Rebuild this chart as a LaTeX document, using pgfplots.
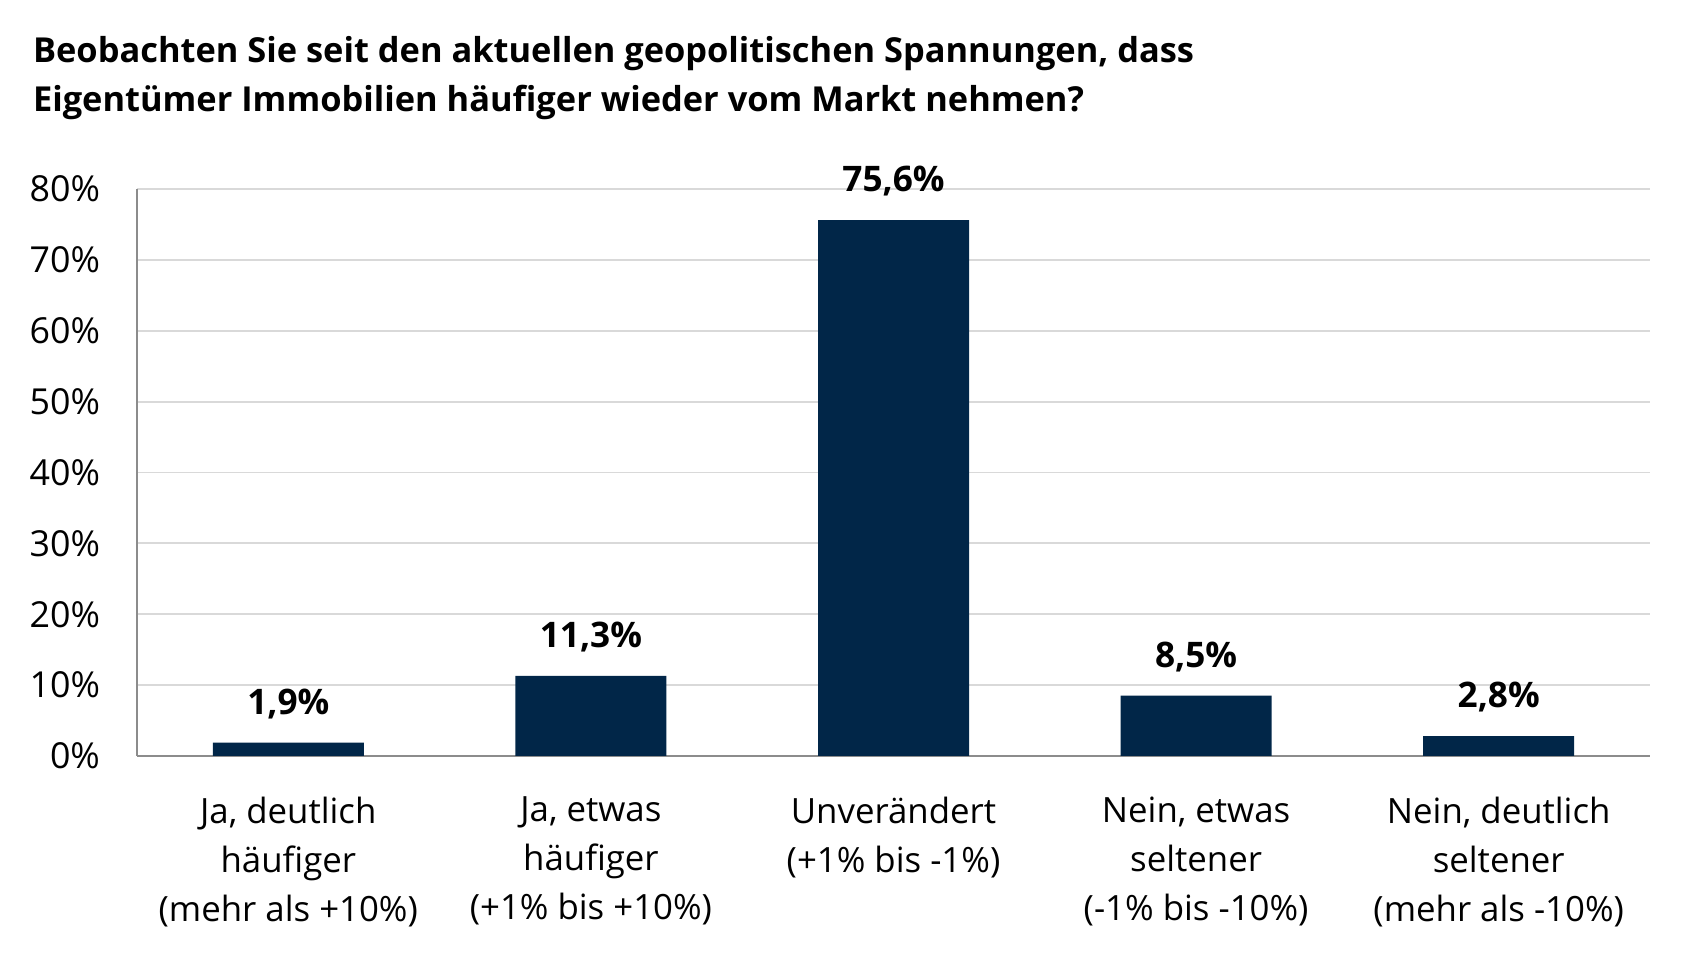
\documentclass[border=0pt]{standalone}
\usepackage{pgfplots}
\pgfplotsset{compat=1.18}
\usepackage{fontspec}
\setmainfont{Open Sans}
\definecolor{barblue}{HTML}{012648}
\definecolor{gridgray}{HTML}{D9D9D9}
\definecolor{axisgray}{HTML}{8C8C8C}
\begin{document}
\begin{tikzpicture}[x=1bp,y=1bp]
\useasboundingbox (0,0) rectangle (851,480);
% title
\node[anchor=west,font=\bfseries\fontsize{17.2bp}{24bp}\selectfont,align=left] at (13,453)
  {Beobachten Sie seit den aktuellen geopolitischen Spannungen, dass};
\node[anchor=west,font=\bfseries\fontsize{17.2bp}{24bp}\selectfont,align=left] at (13,429)
  {Eigentümer Immobilien häufiger wieder vom Markt nehmen?};
\begin{axis}[
  at={(68.5bp,102bp)}, anchor=south west,
  scale only axis, width=756.5bp, height=283.5bp,
  xmin=-0.5, xmax=4.5, ymin=0, ymax=80,
  axis x line*=bottom, axis y line*=left,
  axis line style={axisgray, line width=0.9bp},
  x axis line style={-}, y axis line style={-},
  ytick={0,10,...,80},
  yticklabel={\pgfmathprintnumber{\tick}\%},
  /pgf/number format/assume math mode=true,
  yticklabel style={font=\fontsize{17.9bp}{20bp}\selectfont, xshift=-15bp},
  ymajorgrids, grid style={gridgray, line width=0.9bp},
  major tick length=0pt,
  xtick=data,
  xticklabels={{Ja, deutlich\\häufiger\\(mehr als +10\%)},
               {Ja, etwas\\häufiger\\(+1\% bis +10\%)},
               {Unverändert\\(+1\% bis -1\%)},
               {Nein, etwas\\seltener\\(-1\% bis -10\%)},
               {Nein, deutlich\\seltener\\(mehr als -10\%)}},
  xticklabel style={font=\fontsize{17.4bp}{24.5bp}\selectfont, align=center, anchor=north, yshift=-17bp},
  ybar, bar width=75.5bp,
  nodes near coords={\pgfmathprintnumber[fixed,precision=1,fixed zerofill,use comma]{\pgfplotspointmeta}\%},
  nodes near coords style={font=\bfseries\fontsize{17.6bp}{19bp}\selectfont, anchor=center, yshift=19.5bp, text=black},
  clip=false,
]
\addplot[fill=barblue, draw=none] coordinates {(0,1.9) (1,11.3) (2,75.6) (3,8.5) (4,2.8)};
\end{axis}
\end{tikzpicture}
\end{document}
